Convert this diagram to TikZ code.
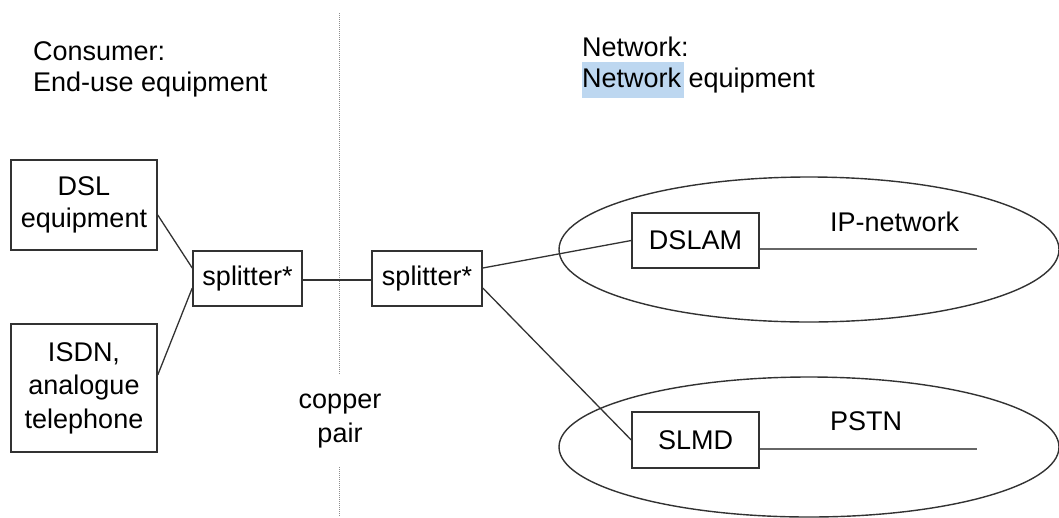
\documentclass[tikz,border=0pt]{standalone}
\usepackage{fontspec}
\setmainfont{Liberation Sans}
\usetikzlibrary{shapes.geometric,calc}
\definecolor{hl}{RGB}{189,215,240}
\definecolor{ln}{RGB}{50,50,50}
\begin{document}
\begin{tikzpicture}[x=1pt,y=-1pt,
  every node/.style={font=\fontsize{27}{32}\selectfont},
  box/.style={draw=ln,line width=1.5pt,rectangle,inner sep=0pt,align=center},
  label/.style={inner sep=0pt,anchor=base west},
  wire/.style={draw=ln,line width=1.3pt},
  cloud/.style={draw=ln,line width=1.4pt,ellipse,inner sep=0pt},
  sep/.style={draw=black!45,line width=1pt,dash pattern=on 1pt off 1pt}]
\useasboundingbox (0,0) rectangle (1059,517);
% headers
\node[label] (consumer) at (33,60) {Consumer:};
\node[label] (enduse) at (33,91) {End-use equipment};
\fill[hl] (582,62) rectangle (684,98);
\node[label] (network) at (582,56) {Network:};
\node[label] (neteq) at (582,87) {Network equipment};
% separator
\coordinate (sepA) at (339,13);
\coordinate (sepB) at (339,375);
\coordinate (sepC) at (339,467);
\coordinate (sepD) at (339,517);
\draw[sep] (sepA) -- (sepB);
\draw[sep] (sepC) -- (sepD);
\node[align=center,inner sep=0pt,font=\fontsize{27}{34}\selectfont] (copper) at (340,421) {copper\\pair};
% ellipses
\node[cloud,minimum width=500pt,minimum height=145pt] (ipcloud) at (809,249.5) {};
\node[cloud,minimum width=500pt,minimum height=140pt] (pstncloud) at (809,447) {};
% boxes
\node[box,minimum width=146pt,minimum height=90pt,font=\fontsize{27}{32}\selectfont] (dsl) at (84,205) {DSL\\equipment};
\node[box,minimum width=146pt,minimum height=128pt,font=\fontsize{27}{33.5}\selectfont] (isdn) at (84,388) {ISDN,\\analogue\\telephone};
\node[box,minimum width=109pt,minimum height=55pt] (splitL) at (247.5,278.5) {splitter*};
\node[box,minimum width=110pt,minimum height=55pt] (splitR) at (427,278.5) {splitter*};
\node[box,minimum width=127pt,minimum height=55pt] (dslam) at (695.5,240.5) {DSLAM};
\node[box,minimum width=127pt,minimum height=56pt] (slmd) at (695.5,440) {SLMD};
% labels in clouds
\node[label] (iplabel) at (830,231) {IP-network};
\node[label] (pstnlabel) at (830,430) {PSTN};
\coordinate (ipend) at (977,249);
\coordinate (pstnend) at (977,449);
% wires
\draw[wire] ([yshift=-10pt]dsl.east) -- ([yshift=10.5pt]splitL.west);
\draw[wire] ([yshift=13pt]isdn.east) -- ([yshift=-9.5pt]splitL.west);
\draw[wire] ([yshift=-1.5pt]splitL.east) -- ([yshift=-1.5pt]splitR.west);
\draw[wire] ([yshift=10.5pt]splitR.east) -- (dslam.west);
\draw[wire] ([yshift=-9.5pt]splitR.east) -- (slmd.west);
\draw[wire,draw=black!60] ([yshift=-8.5pt]dslam.east) -- (ipend);
\draw[wire,draw=black!60] ([yshift=-9pt]slmd.east) -- (pstnend);
\end{tikzpicture}
\end{document}
